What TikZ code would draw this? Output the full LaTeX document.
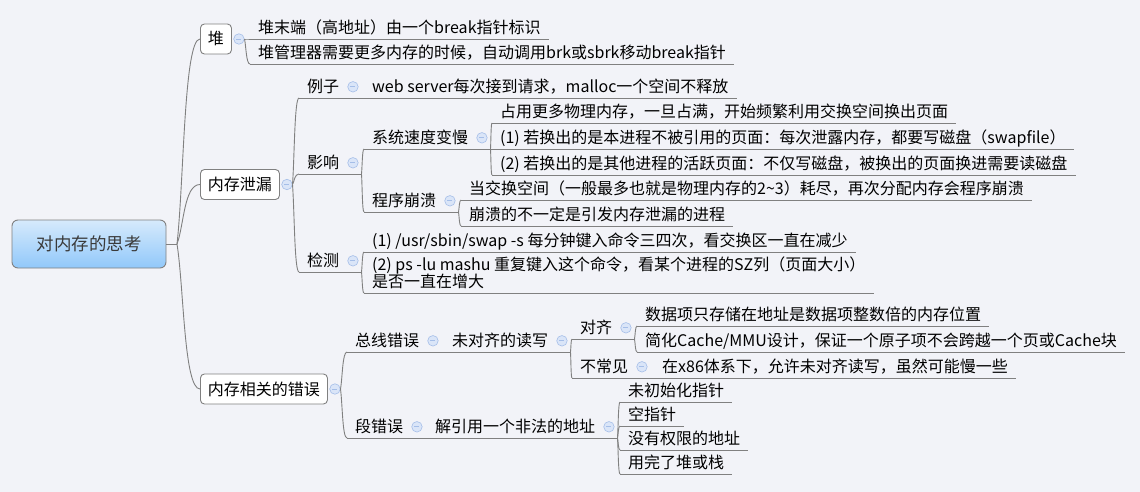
\documentclass[tikz,border=0pt]{standalone}
\usepackage{fontspec}
\setmainfont{Noto Sans CJK SC}
\usetikzlibrary{positioning,calc}

\definecolor{bg}{RGB}{242,243,248}
\definecolor{linegray}{RGB}{128,128,128}
\definecolor{foldfill}{RGB}{218,229,248}
\definecolor{foldedge}{RGB}{165,190,232}
\definecolor{rootlight}{RGB}{214,234,252}
\definecolor{rootdark}{RGB}{145,200,250}
\definecolor{roottext}{RGB}{58,58,58}

\newcommand\foldmark{\rule{5pt}{0.7pt}}

\tikzset{
  link/.style={draw=linegray,line width=0.9pt},
  branch/.style={to path={let \p1=(\tikztostart),\p2=(\tikztotarget) in
    .. controls ({\x1+0.3*(\x2-\x1)},{\y1+0.3*(\y2-\y1)}) and ({\x1+0.3*(\x2-\x1)},\y2) .. (\tikztotarget)}},
  topic/.style={anchor=south west,inner xsep=8pt,inner ysep=3pt,text height=14pt,text depth=2pt,font=\fontsize{16}{17}\selectfont},
  box/.style={topic,anchor=west,draw=linegray,line width=0.9pt,fill=white,rounded corners=4pt,inner xsep=7.5pt,minimum height=30pt},
  fold/.style={circle,draw=foldedge,fill=foldfill,line width=0.6pt,minimum size=10.5pt,inner sep=0pt,text=foldedge},
  root/.style={draw=linegray,line width=0.9pt,rounded corners=6pt,top color=rootlight,bottom color=rootdark,minimum width=154pt,minimum height=48pt,text=roottext,font=\fontsize{17.5}{20}\selectfont}
}

\begin{document}
\begin{tikzpicture}[x=1pt,y=-1pt]
\useasboundingbox (0,0) rectangle (1140,492);
\fill[bg] (0,0) rectangle (1140,492);

\node[root] (root) at (89,244) {对内存的思考};
\coordinate (root-j) at (177,244);
\draw[link] (root.east) -- (root-j);

\node[box] (dui) at (200,39) {堆};
\node[box] (xielou) at (200,184.5) {内存泄漏};
\node[box] (cuowu) at (200,389) {内存相关的错误};

\node[topic] (dui1) at (250,39) {堆末端（高地址）由一个break指针标识};
\node[topic] (dui2) at (250,64) {堆管理器需要更多内存的时候，自动调用brk或sbrk移动break指针};

\node[topic] (lizi) at (299,98) {例子};
\node[topic] (yingxiang) at (299,174) {影响};
\node[topic] (jiance) at (299,272) {检测};
\node[topic] (lizi1) at (364,98) {web server每次接到请求，malloc一个空间不释放};
\node[topic] (sudu) at (364,149) {系统速度变慢};
\node[topic] (bengkui) at (364,212) {程序崩溃};
\node[topic] (sudu1) at (492,123) {占用更多物理内存，一旦占满，开始频繁利用交换空间换出页面};
\node[topic] (sudu2) at (492,149) {(1) 若换出的是本进程不被引用的页面：每次泄露内存，都要写磁盘（swapfile）};
\node[topic] (sudu3) at (492,175) {(2) 若换出的是其他进程的活跃页面：不仅写磁盘，被换出的页面换进需要读磁盘};
\node[topic] (bengkui1) at (461,200) {当交换空间（一般最多也就是物理内存的2\textasciitilde3）耗尽，再次分配内存会程序崩溃};
\node[topic] (bengkui2) at (461,226) {崩溃的不一定是引发内存泄漏的进程};
\node[topic] (jiance1) at (364,252) {(1) /usr/sbin/swap -s 每分钟键入命令三四次，看交换区一直在减少};
\node[topic,text height=31pt] (jiance2) at (364,293) {\lineskiplimit=-100pt\baselineskip=17pt\vbox{\hbox{(2) ps -lu mashu 重复键入这个命令，看某个进程的SZ列（页面大小）}\hbox{是否一直在增大}}};

\node[topic] (zongxian) at (347,352) {总线错误};
\node[topic] (duan) at (347,438) {段错误};
\node[topic] (weiduiqi) at (444,352) {未对齐的读写};
\node[topic] (duiqi) at (572,339) {对齐};
\node[topic] (buchang) at (572,378) {不常见};
\node[topic] (duiqi1) at (637,326) {数据项只存储在地址是数据项整数倍的内存位置};
\node[topic] (duiqi2) at (637,352) {简化Cache/MMU设计，保证一个原子项不会跨越一个页或Cache块};
\node[topic] (buchang1) at (654,378) {在x86体系下，允许未对齐读写，虽然可能慢一些};
\node[topic] (jieyinyong) at (427,438) {解引用一个非法的地址};
\node[topic] (zhizhen1) at (620,402) {未初始化指针};
\node[topic] (zhizhen2) at (620,426) {空指针};
\node[topic] (zhizhen3) at (620,450) {没有权限的地址};
\node[topic] (zhizhen4) at (620,474) {用完了堆或栈};

\foreach \nd in {dui,xielou,cuowu} {
  \node[fold,right=1.5pt of \nd] (\nd-f) {\foldmark};
  \coordinate (\nd-j) at (\nd-f.east);
  \draw[link] (root-j) to[branch] (\nd.west);
}
\foreach \nd in {lizi,yingxiang,jiance,sudu,bengkui,zongxian,weiduiqi,duiqi,buchang,duan,jieyinyong} {
  \node[fold,right=0pt of \nd] (\nd-f) {\foldmark};
  \path (\nd-f.east|-\nd.south) ++(3,0) coordinate (\nd-j);
  \draw[link] (\nd.south west) -- (\nd-j);
}
\foreach \nd in {dui1,dui2,lizi1,sudu1,sudu2,sudu3,bengkui1,bengkui2,jiance1,jiance2,duiqi1,duiqi2,buchang1,zhizhen1,zhizhen2,zhizhen3,zhizhen4}
  \draw[link] (\nd.south west) -- (\nd.south east);
\foreach \pa/\ch in {dui/dui1,dui/dui2,xielou/lizi,xielou/yingxiang,xielou/jiance,lizi/lizi1,yingxiang/sudu,yingxiang/bengkui,sudu/sudu1,sudu/sudu2,sudu/sudu3,bengkui/bengkui1,bengkui/bengkui2,jiance/jiance1,jiance/jiance2,cuowu/zongxian,cuowu/duan,zongxian/weiduiqi,weiduiqi/duiqi,weiduiqi/buchang,duiqi/duiqi1,duiqi/duiqi2,buchang/buchang1,duan/jieyinyong,jieyinyong/zhizhen1,jieyinyong/zhizhen2,jieyinyong/zhizhen3,jieyinyong/zhizhen4}
  \draw[link] (\pa-j) to[branch] (\ch.south west);
\end{tikzpicture}
\end{document}
